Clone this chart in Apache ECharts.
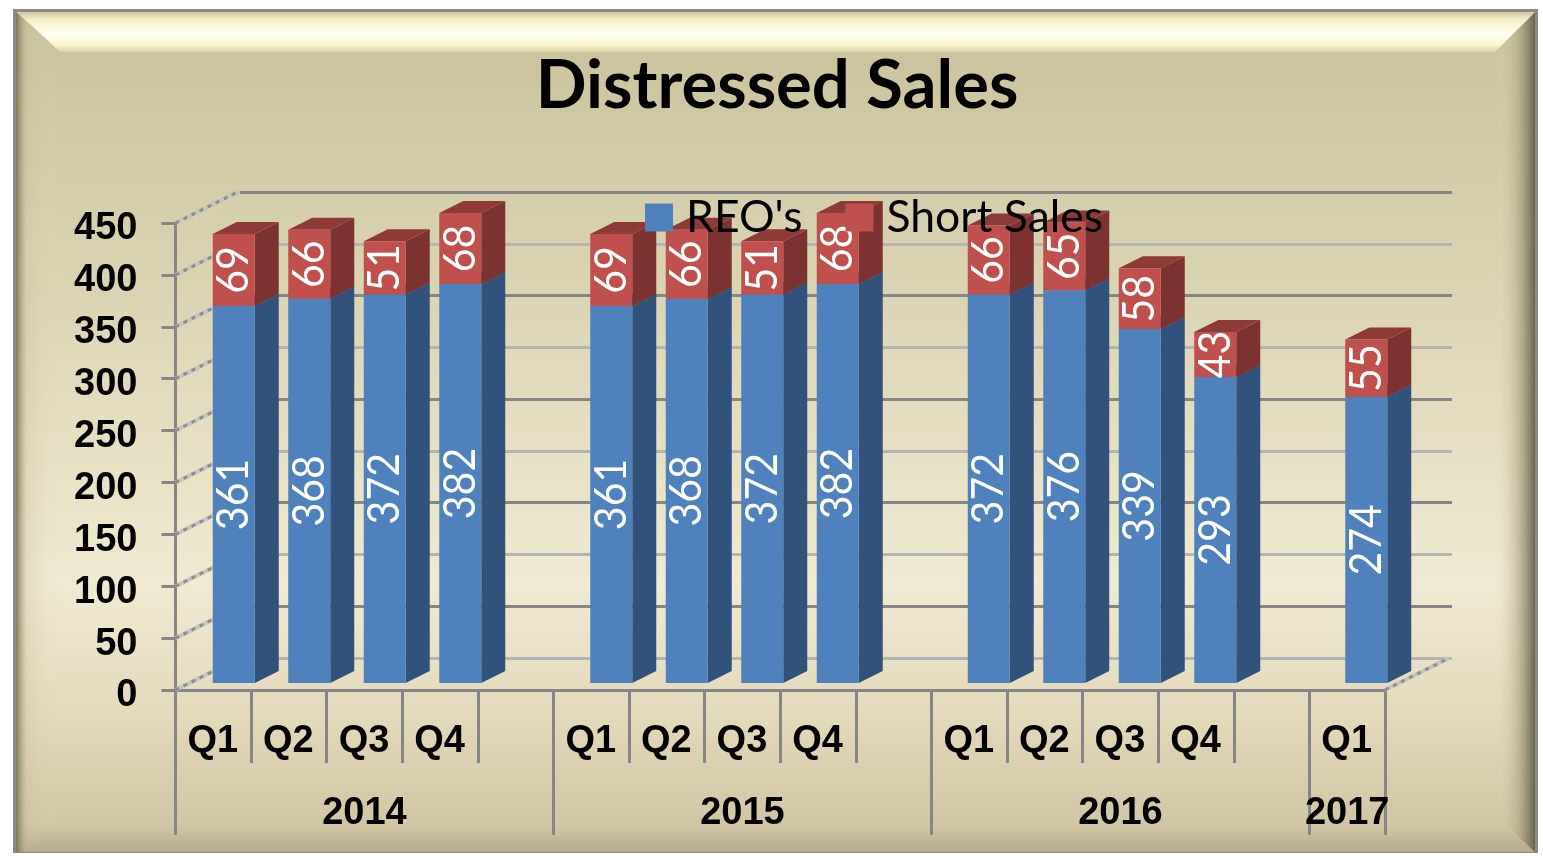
<!DOCTYPE html>
<html>
<head>
<meta charset="utf-8">
<title>Distressed Sales</title>
<script src="https://cdn.jsdelivr.net/npm/echarts@6/dist/echarts.min.js"></script>
<style>
  html, body { margin: 0; padding: 0; background: #fff; }
  #grafico { width: 1543px; height: 856px; }
</style>
</head>
<body>
<div id="grafico"></div>
<script>
const quarters = ['Q1', 'Q2', 'Q3', 'Q4', '', 'Q1', 'Q2', 'Q3', 'Q4', '', 'Q1', 'Q2', 'Q3', 'Q4', '', 'Q1']
const years = ['', '', '2014', '', '', '', '', '2015', '', '', '', '', '2016', '', '', '2017']
const yearStarts = [0, 5, 10, 15, 16]
const reoValues = [361, 368, 372, 382, null, 361, 368, 372, 382, null, 372, 376, 339, 293, null, 274]
const shortValues = [69, 66, 51, 68, null, 69, 66, 51, 68, null, 66, 65, 58, 43, null, 55]
const axisTicks = [0, 50, 100, 150, 200, 250, 300, 350, 400, 450]

const BAR_W = 42
const SIDE_X = 24
const SIDE_Y = 12
const WALL_X = 64
const WALL_Y = 32
const AXIS_COLOR = '#868686'
const LABEL_FONT = '"Liberation Sans", Arial, sans-serif'

// one stacked piece of a bar: front, side, top and the rotated value
function barPiece(colors) {
  return function (params, api) {
    const base = api.coord([api.value(0), api.value(1)])
    const top = api.coord([api.value(0), api.value(2)])
    const x = base[0] - BAR_W / 2
    const x2 = x + BAR_W
    const y0 = base[1]
    const y1 = top[1]
    return {
      type: 'group',
      children: [
        {
          type: 'polygon',
          shape: { points: [[x2, y0], [x2 + SIDE_X, y0 - SIDE_Y], [x2 + SIDE_X, y1 - SIDE_Y], [x2, y1]] },
          style: { fill: colors.side }
        },
        {
          type: 'polygon',
          shape: { points: [[x, y1], [x + SIDE_X, y1 - SIDE_Y], [x2 + SIDE_X, y1 - SIDE_Y], [x2, y1]] },
          style: { fill: colors.top }
        },
        {
          type: 'rect',
          shape: { x: x, y: y1, width: BAR_W, height: y0 - y1 },
          style: { fill: colors.front }
        },
        {
          type: 'text',
          x: base[0],
          y: (y0 + y1) / 2,
          rotation: Math.PI / 2,
          scaleY: 1.1,
          z2: 10,
          style: {
            text: String(api.value(2) - api.value(1)),
            fill: '#fff',
            font: '41px Lato, "Open Sans", sans-serif',
            align: 'center',
            verticalAlign: 'middle'
          }
        }
      ]
    }
  }
}

function wallLine(x, y) {
  const shape = { x1: x, y1: y, x2: x + WALL_X, y2: y - WALL_Y }
  return [
    { type: 'line', shape: shape, style: { stroke: '#c4c4c0', lineWidth: 4 } },
    { type: 'line', shape: shape, style: { stroke: '#8e8e8e', lineWidth: 3, lineDash: [4, 5] } }
  ]
}

function renderWall(params, api) {
  const p = api.coord([0, api.value(1)])
  const sys = params.coordSys
  let children = wallLine(sys.x, p[1])
  if (api.value(1) === 0) children = children.concat(wallLine(sys.x + sys.width, p[1]))
  return { type: 'group', children: children }
}

const reoRows = []
const shortRows = []
reoValues.forEach((v, i) => {
  if (v === null) return
  reoRows.push([i, 0, v])
  shortRows.push([i, v, v + shortValues[i]])
})

// bevelled frame behind the chart
const frame = [
  { type: 'rect', z: -10, shape: { x: 13, y: 9, width: 1525, height: 844 }, style: { fill: '#8b8b85' } },
  {
    type: 'rect', z: -9, shape: { x: 16, y: 12, width: 1519, height: 840 },
    style: {
      fill: {
        type: 'linear', x: 0, y: 0, x2: 0, y2: 1,
        colorStops: [
          { offset: 0, color: '#c8c19b' },
          { offset: 0.2, color: '#d4cdaa' },
          { offset: 0.4, color: '#dfd8b9' },
          { offset: 0.68, color: '#f0ead2' },
          { offset: 0.84, color: '#e3d9bb' },
          { offset: 0.97, color: '#d0c5a4' },
          { offset: 1, color: '#b5aa8c' }
        ]
      }
    }
  },
  {
    type: 'polygon', z: -8,
    shape: { points: [[16, 12], [60, 52], [60, 815], [24, 852], [16, 852]] },
    style: {
      fill: {
        type: 'linear', x: 0, y: 0, x2: 1, y2: 0,
        colorStops: [
          { offset: 0, color: 'rgba(110,105,80,0.85)' },
          { offset: 0.25, color: 'rgba(200,190,155,0.3)' },
          { offset: 1, color: 'rgba(230,225,195,0)' }
        ]
      }
    }
  },
  {
    type: 'polygon', z: -8,
    shape: { points: [[1535, 12], [1495, 52], [1495, 815], [1535, 852]] },
    style: {
      fill: {
        type: 'linear', x: 0, y: 0, x2: 1, y2: 0,
        colorStops: [
          { offset: 0, color: 'rgba(230,225,195,0)' },
          { offset: 0.6, color: 'rgba(170,160,130,0.6)' },
          { offset: 1, color: 'rgba(100,95,75,0.95)' }
        ]
      }
    }
  },
  {
    type: 'polygon', z: -7,
    shape: { points: [[17, 12], [1535, 12], [1495, 52], [60, 52]] },
    style: {
      fill: {
        type: 'linear', x: 0, y: 0, x2: 0, y2: 1,
        colorStops: [
          { offset: 0, color: '#cfc8a4' },
          { offset: 0.2, color: '#f6f1c6' },
          { offset: 0.55, color: '#fffff4' },
          { offset: 0.85, color: '#f8f3c8' },
          { offset: 1, color: '#d6cfab' }
        ]
      }
    }
  }
]

const option = {
  animation: false,
  title: {
    text: 'Distressed Sales',
    left: 772,
    textAlign: 'center',
    top: 48,
    textStyle: { fontFamily: 'Lato, "Open Sans", sans-serif', fontSize: 67, fontWeight: 'bold', color: '#000' }
  },
  legend: {
    left: 645,
    top: 195,
    padding: 0,
    z: 20,
    itemWidth: 28,
    itemHeight: 28,
    itemGap: 43,
    icon: 'rect',
    data: ["REO's", 'Short Sales'],
    selectedMode: false,
    textStyle: { fontFamily: 'Lato, "Open Sans", sans-serif', fontSize: 44.5, color: '#000', padding: [0, 0, 0, 8] }
  },
  graphic: frame,
  grid: [
    { left: 175.5, right: 158, top: 223, bottom: 166 },
    { left: 240, right: 91, top: 192, bottom: 198 },
    { left: 196, right: 139, top: 213, bottom: 173 }
  ],
  xAxis: [
    {
      type: 'category',
      gridIndex: 0,
      data: quarters,
      axisLine: { lineStyle: { color: AXIS_COLOR, width: 3 } },
      axisTick: { show: true, interval: 0, length: 73, lineStyle: { color: AXIS_COLOR, width: 3 } },
      axisLabel: { interval: 0, margin: 31, color: '#000', fontFamily: LABEL_FONT, fontWeight: 'bold', fontSize: 38, padding: [2, 1, 0, 0] }
    },
    {
      type: 'category',
      gridIndex: 0,
      position: 'bottom',
      offset: 73,
      data: years,
      axisLine: { show: false },
      axisTick: {
        show: true,
        interval: i => yearStarts.includes(i),
        length: 72,
        lineStyle: { color: AXIS_COLOR, width: 3 }
      },
      axisLabel: { interval: 0, margin: 32, color: '#000', fontFamily: LABEL_FONT, fontWeight: 'bold', fontSize: 38 }
    },
    { type: 'category', gridIndex: 1, data: quarters, show: false },
    { type: 'category', gridIndex: 2, data: quarters, show: false }
  ],
  yAxis: [
    {
      type: 'value',
      gridIndex: 0,
      min: 0,
      max: 450,
      interval: 50,
      axisLine: { show: true, lineStyle: { color: AXIS_COLOR, width: 3 } },
      axisTick: { show: true, length: 14, lineStyle: { color: AXIS_COLOR, width: 3 } },
      axisLabel: { margin: 38, color: '#000', fontFamily: LABEL_FONT, fontWeight: 'bold', fontSize: 38, verticalAlign: 'top', lineHeight: 12 },
      splitLine: { show: false }
    },
    {
      type: 'value',
      gridIndex: 1,
      min: 0,
      max: 450,
      interval: 50,
      axisLine: { show: false },
      axisTick: { show: false },
      axisLabel: { show: false },
      splitLine: { lineStyle: { color: ['#b4b4b2', AXIS_COLOR], width: 3 } }
    },
    { type: 'value', gridIndex: 2, min: 0, max: 450, show: false, splitLine: { show: false } }
  ],
  series: [
    {
      type: 'custom',
      name: 'walls',
      xAxisIndex: 0,
      yAxisIndex: 0,
      z: 1,
      silent: true,
      clip: false,
      renderItem: renderWall,
      data: axisTicks.map(v => [0, v])
    },
    {
      type: 'custom',
      name: "REO's",
      xAxisIndex: 3,
      yAxisIndex: 2,
      z: 3,
      clip: false,
      itemStyle: { color: '#4f81bd' },
      encode: { x: 0, y: [1, 2] },
      renderItem: barPiece({ front: '#4f81bd', side: '#31527b', top: '#31527b' }),
      data: reoRows
    },
    {
      type: 'custom',
      name: 'Short Sales',
      xAxisIndex: 3,
      yAxisIndex: 2,
      z: 4,
      clip: false,
      itemStyle: { color: '#c0504d' },
      encode: { x: 0, y: [1, 2] },
      renderItem: barPiece({ front: '#c0504d', side: '#7c3230', top: '#8e3a38' }),
      data: shortRows
    }
  ]
}

const chart = echarts.init(document.getElementById('grafico'))
chart.setOption(option)
</script>
</body>
</html>
